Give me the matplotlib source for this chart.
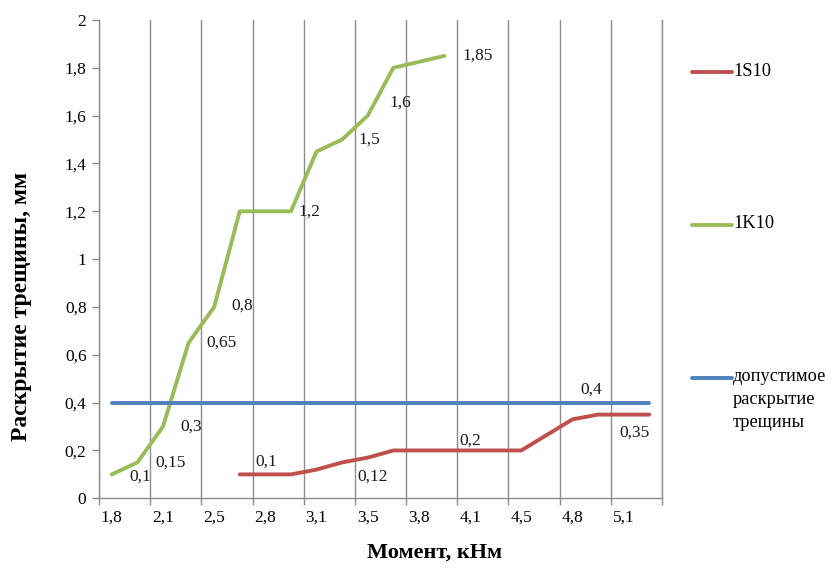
import matplotlib
matplotlib.use("Agg")
import matplotlib.pyplot as plt
from matplotlib.lines import Line2D

plt.rcParams['font.family'] = ['Liberation Serif', 'DejaVu Serif']

# Category axis: 22 load steps, every second one is labelled
n_categories = 22
tick_labels = ["1,8", "2,1", "2,5", "2,8", "3,1", "3,5", "3,8", "4,1", "4,5", "4,8", "5,1"]

# Crack width, mm (None = no measurement at this step)
s1s10 = [None, None, None, None, None, 0.1, 0.1, 0.1, 0.12, 0.15, 0.17, 0.2,
         0.2, 0.2, 0.2, 0.2, 0.2, 0.265, 0.33, 0.35, 0.35, 0.35]
s1k10 = [0.1, 0.15, 0.3, 0.65, 0.8, 1.2, 1.2, 1.2, 1.45, 1.5, 1.6, 1.8, 1.825, 1.85]
allowed = [0.4] * n_categories

series_names = ["1S10", "1K10", "допустимое\nраскрытие\nтрещины"]
colors = ["#C0504D", "#9BBB59", "#4F81BD"]

# Data labels: (series index, point index, dx px, dy px, ha)
labels = [
    (1, 0, 18, -2, 'left'), (1, 1, 18, 0, 'left'), (1, 2, 17, 0, 'left'),
    (1, 3, 18, 0, 'left'), (1, 4, 17, 1, 'left'), (1, 7, 8, 0, 'left'),
    (1, 9, 16, 0, 'left'), (1, 10, 22, 13, 'left'), (1, 13, 18, 0, 'left'),
    (0, 6, 1, 13, 'center'), (0, 8, 41, -7, 'left'), (0, 14, 0, 10, 'center'),
    (0, 20, 11, -18, 'center'),
    (2, 19, -7, 13, 'center'),
]

W, H = 831, 569
fig = plt.figure(figsize=(W / 100, H / 100), dpi=100)
ax = fig.add_axes([99 / W, (H - 498.3) / H, 563 / W, 478.3 / H])

all_series = [s1s10, s1k10, allowed]
for vals, c in zip(all_series, colors):
    xs = [i for i, v in enumerate(vals) if v is not None]
    ys = [v for v in vals if v is not None]
    ax.plot(xs, ys, color=c, lw=2.8, solid_capstyle='round', solid_joinstyle='round', zorder=3)

for si, pi, dx, dy, ha in labels:
    v = all_series[si][pi]
    txt = f"{v:g}".replace('.', ',')
    ax.annotate(txt, (pi, v), xytext=(dx, dy), textcoords='offset pixels',
                ha=ha, va='center', fontsize=12.5, color='#1a1a1a', zorder=4)

ax.set_xlim(-0.5, n_categories - 0.5)
ax.set_ylim(0, 2)
ax.set_yticks([i * 0.2 for i in range(11)])
ax.set_yticklabels(["0", "0,2", "0,4", "0,6", "0,8", "1", "1,2", "1,4", "1,6", "1,8", "2"])

major = [i - 0.5 for i in range(0, n_categories + 1, 2)]
ax.set_xticks(major)
ax.set_xticklabels([])
ax.set_xticks(list(range(0, n_categories, 2)), minor=True)
ax.set_xticklabels(tick_labels, minor=True)
ax.tick_params(axis='x', which='major', length=5, width=1, color='#8c8c8c', direction='out')
ax.tick_params(axis='x', which='minor', length=0, pad=8, labelsize=12.5)
ax.tick_params(axis='y', length=5, width=1, color='#8c8c8c', pad=4, labelsize=12.5)
ax.grid(axis='x', which='major', color='#8c8c8c', lw=1)
ax.set_axisbelow(True)

for side in ['left', 'bottom', 'right']:
    ax.spines[side].set_color('#8c8c8c')
    ax.spines[side].set_linewidth(1)
ax.spines['top'].set_visible(False)

fig.text(22 / W, 1 - 306 / H, "Раскрытие трещины, мм", rotation=90,
         ha='center', va='center', fontsize=17, fontweight='bold')
fig.text(435 / W, 1 - 553 / H, "Момент, кНм",
         ha='center', va='center', fontsize=16, fontweight='bold')

# Legend drawn as separate entries spread along the right side
legend_y = [72.3, 225, 377.7]
for name, c, y in zip(series_names, colors, legend_y):
    fig.add_artist(Line2D([692 / W, 732 / W], [1 - y / H, 1 - y / H], transform=fig.transFigure,
                          color=c, lw=2.8, solid_capstyle='round'))
    fig.text(733 / W, 1 - (y - 9.5) / H, name, ha='left', va='top',
             fontsize=13.2, linespacing=1.45)

fig.savefig("out.png", dpi=100)
